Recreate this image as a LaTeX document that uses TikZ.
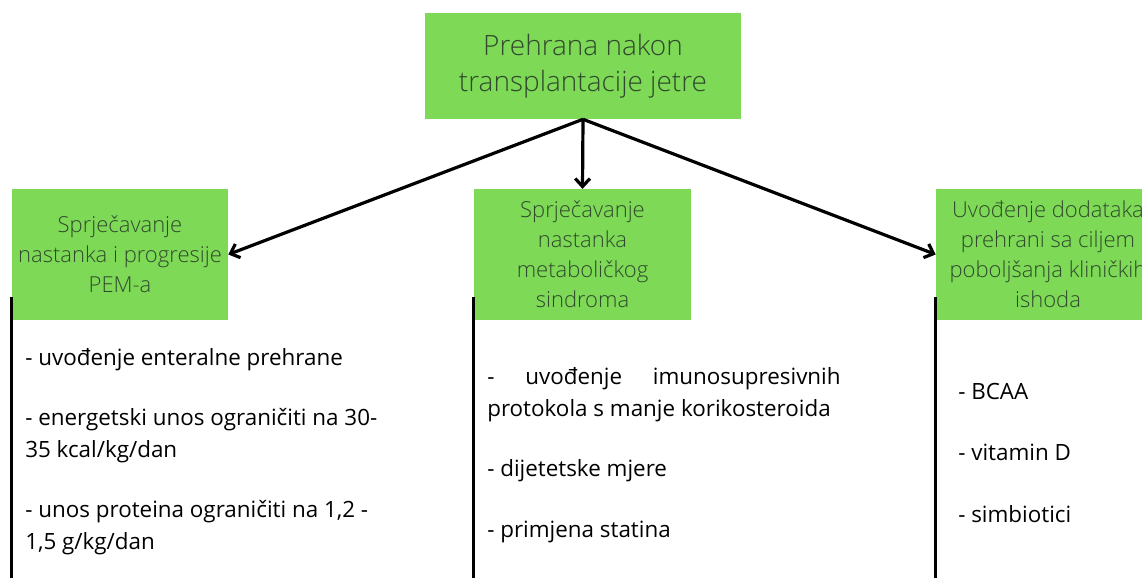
\documentclass[tikz,border=0pt]{standalone}
\usepackage{fontspec}
\setmainfont{Open Sans}
\newfontfamily\lightfont{Open Sans Light}
\usetikzlibrary{arrows.meta,positioning}
\definecolor{boxgreen}{HTML}{7ED957}
\definecolor{boxtext}{HTML}{2F4A2C}

\begin{document}
\begin{tikzpicture}[x=0.75pt,y=-0.75pt,
    greenbox/.style={fill=boxgreen,text=boxtext,align=center,inner sep=0pt,
        font=\lightfont\fontsize{16.5}{22.5}\selectfont},
    item/.style={anchor=west,align=left,inner sep=0pt,
        font=\fontsize{16.8}{24}\selectfont},
    arr/.style={line width=2.4pt,-{Straight Barb[length=6pt,width=11pt]}},
    stem/.style={line width=2.4pt}]
        %okvir
        \useasboundingbox (0,0) rectangle (1142,578);
        \clip (0,0) rectangle (1142,578);
        \coordinate (bot) at (0,580);
        %zeleni okviri
        \node [greenbox,minimum width=237pt,minimum height=79.5pt,
            font=\lightfont\fontsize{21}{27}\selectfont] (root) at (583,66)
            {Prehrana nakon\\transplantacije jetre};
        \node [greenbox,minimum width=162pt,minimum height=98pt] (pem) at (120,254.5)
            {Sprječavanje\\nastanka i progresije\\PEM-a};
        \node [greenbox,minimum width=163pt,minimum height=98pt] (meta) at (582.5,254.5)
            {Sprječavanje\\nastanka\\metaboličkog\\sindroma};
        \node [greenbox,minimum width=168pt,minimum height=98pt] (dod) at (1048,254.5)
            {Uvođenje dodataka\\prehrani sa ciljem\\poboljšanja kliničkih\\ishoda};
        %strelice
        \draw [arr] (root.south) -- (pem.east);
        \draw [arr] (root.south) -- (meta.north);
        \draw [arr] (root.south) -- (dod.west);
        %okomite linije
        \draw [stem] ([yshift=17pt]pem.south west) -- (pem.south west |- bot);
        \draw [stem] ([yshift=17pt]meta.south west) -- (meta.south west |- bot);
        \draw [stem] ([yshift=17pt]dod.south west) -- (dod.south west |- bot);
        %stavke
        \node [item] (pem1) at (25,360) {- uvođenje enteralne prehrane};
        \node [item] (pem2) at (25,436) {- energetski unos ograničiti na 30-\\35 kcal/kg/dan};
        \node [item] (pem3) at (25,527.5) {- unos proteina ograničiti na 1,2 -\\1,5 g/kg/dan};
        \node [item] (meta1) at (487,395)
            {\hbox to 265pt{-\hfill uvođenje\hfill imunosupresivnih}\\protokola s manje korikosteroida};
        \node [item] (meta2) at (487,471) {- dijetetske mjere};
        \node [item] (meta3) at (487,532) {- primjena statina};
        \node [item] (dod1) at (958,391) {- BCAA};
        \node [item] (dod2) at (958,452) {- vitamin D};
        \node [item] (dod3) at (958,514) {- simbiotici};
    \end{tikzpicture}
\end{document}
